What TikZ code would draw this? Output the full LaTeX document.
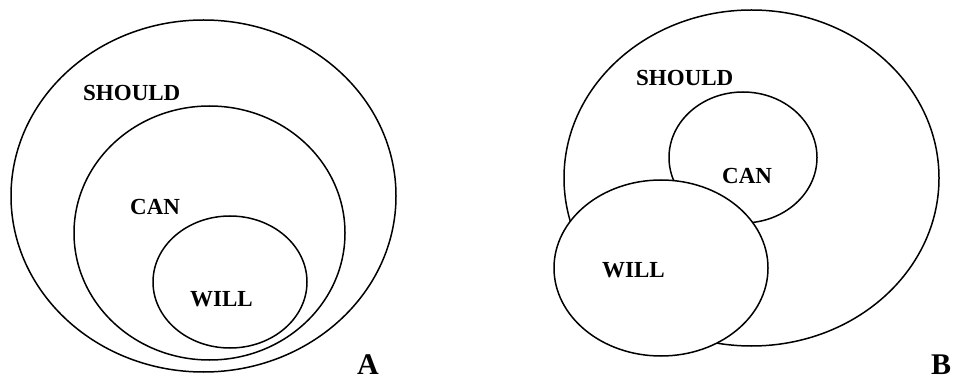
\documentclass[tikz,border=0pt]{standalone}
\usepackage{fontspec}
\setmainfont{Liberation Serif}
\usetikzlibrary{shapes.geometric}
\begin{document}
\begin{tikzpicture}[x=1pt,y=-1pt,
  set/.style={draw, ellipse, line width=1.5pt, inner sep=0pt},
  lbl/.style={anchor=base west, inner sep=0pt, font=\fontsize{23}{23}\selectfont\bfseries},
  big/.style={anchor=base west, inner sep=0pt, font=\fontsize{30}{30}\selectfont\bfseries}]
\useasboundingbox (0,0) rectangle (953,379);
% Diagram A
\node[set, minimum width=385pt, minimum height=352pt] (aShould) at (203.5,196) {};
\node[set, minimum width=271pt, minimum height=254pt] (aCan) at (209.5,233) {};
\node[set, minimum width=154pt, minimum height=132pt] (aWill) at (230,282) {};
\node[lbl] (tAShould) at (83,101) {SHOULD};
\node[lbl] (tACan) at (130,215) {CAN};
\node[lbl] (tAWill) at (190,307) {WILL};
\node[big] (tA) at (357,374) {A};
% Diagram B
\node[set, minimum width=375pt, minimum height=336pt] (bShould) at (751.5,178) {};
\node[set, minimum width=148pt, minimum height=131pt] (bCan) at (743,157.5) {};
\node[set, fill=white, minimum width=214pt, minimum height=176pt] (bWill) at (661,268) {};
\node[lbl] (tBShould) at (636,86) {SHOULD};
\node[lbl] (tBCan) at (722,184) {CAN};
\node[lbl] (tBWill) at (602,278) {WILL};
\node[big] (tB) at (931,374) {B};
\end{tikzpicture}
\end{document}
